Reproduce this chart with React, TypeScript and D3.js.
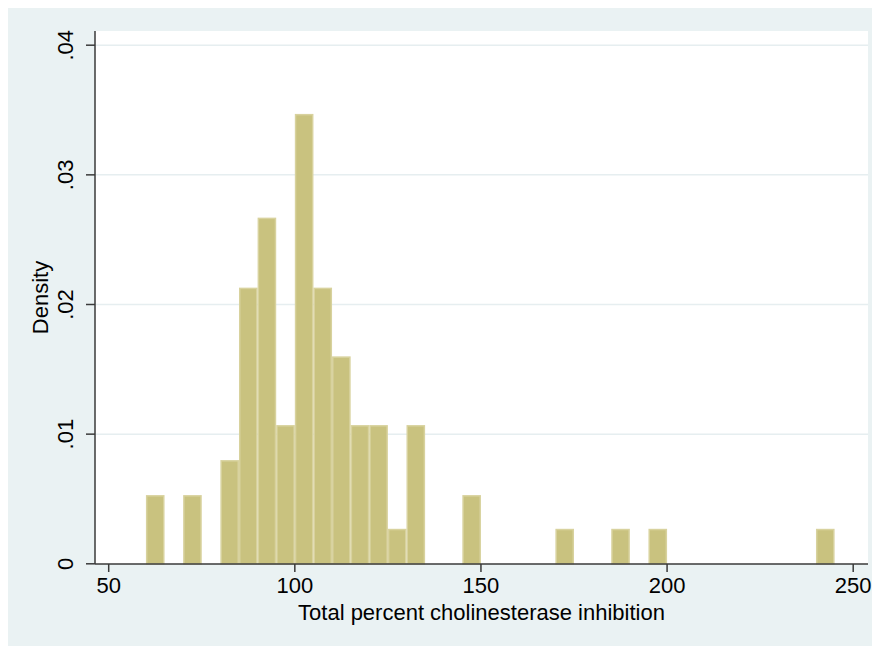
import React from "react";
import * as d3 from "d3";

// Histogram bins (left edge, width 5) and densities
const binStarts = [60, 70, 80, 85, 90, 95, 100, 105, 110, 115, 120, 125, 130, 145, 170, 185, 195, 240];
const densities = [0.0053, 0.0053, 0.008, 0.0213, 0.0267, 0.0107, 0.0347, 0.0213, 0.016, 0.0107, 0.0107, 0.0027, 0.0107, 0.0053, 0.0027, 0.0027, 0.0027, 0.0027];
const binWidth = 5;

const xTicks = [50, 100, 150, 200, 250];
const yTicks = [0, 0.01, 0.02, 0.03, 0.04];
const yTickLabels = ["0", ".01", ".02", ".03", ".04"];
const xTitle = "Total percent cholinesterase inhibition";
const yTitle = "Density";

const W = 872;
const H = 638;
const plot = { left: 87, right: 860, top: 23, bottom: 556 };

const BG = "#EAF2F3";
const GRID = "#E6EEF0";
const BAR_FILL = "#C9C27F";
const BAR_STROKE = "#D8D29E";
const AXIS = "#3a3a3a";
const FONT = "'Liberation Sans', Arial, Helvetica, sans-serif";

export default function App() {
  const x = d3.scaleLinear().domain([50, 250]).range([100.7, 845.2]);
  const y = d3.scaleLinear().domain([0, 0.04]).range([555.8, 37.2]);

  const bars = binStarts.map((b, i) => ({ x0: b, x1: b + binWidth, d: densities[i] }));

  return (
    <svg width={W} height={H} style={{ display: "block" }} fontFamily={FONT}>
      <rect x={0} y={0} width={W} height={H} fill={BG} />
      <rect x={plot.left} y={plot.top} width={plot.right - plot.left} height={plot.bottom - plot.top} fill="#ffffff" />
      {/* gridlines */}
      {yTicks.slice(1).map((t) => (
        <line key={"g" + t} x1={plot.left} x2={plot.right} y1={y(t)} y2={y(t)} stroke={GRID} strokeWidth={1.5} />
      ))}
      {/* bars */}
      {bars.map((b, i) => {
        const x0 = x(b.x0);
        const x1 = x(b.x1);
        const yt = y(b.d);
        const yb = y(0);
        return (
          <rect
            key={"b" + i}
            x={x0 + 0.75}
            y={yt + 0.75}
            width={x1 - x0 - 1.5}
            height={yb - yt - 0.75}
            fill={BAR_FILL}
            stroke={BAR_STROKE}
            strokeWidth={1.5}
          />
        );
      })}
      {/* axes */}
      <line x1={plot.left} x2={plot.left} y1={plot.top} y2={plot.bottom} stroke={AXIS} strokeWidth={1.5} />
      <line x1={plot.left} x2={plot.right} y1={plot.bottom} y2={plot.bottom} stroke={AXIS} strokeWidth={1.5} />
      {yTicks.map((t, i) => (
        <g key={"yt" + t}>
          <line x1={plot.left - 9} x2={plot.left} y1={y(t)} y2={y(t)} stroke={AXIS} strokeWidth={1.5} />
          <text
            transform={`translate(65,${y(t)}) rotate(-90)`}
            textAnchor="middle"
            fontSize={22}
            fill="#000"
          >
            {yTickLabels[i]}
          </text>
        </g>
      ))}
      {xTicks.map((t) => (
        <g key={"xt" + t}>
          <line x1={x(t)} x2={x(t)} y1={plot.bottom} y2={plot.bottom + 8} stroke={AXIS} strokeWidth={1.5} />
          <text x={x(t)} y={585} textAnchor="middle" fontSize={22} fill="#000">
            {t}
          </text>
        </g>
      ))}
      <text x={(plot.left + plot.right) / 2} y={612} textAnchor="middle" fontSize={22} fill="#000">
        {xTitle}
      </text>
      <text
        transform={`translate(40.3,${(plot.top + plot.bottom) / 2}) rotate(-90)`}
        textAnchor="middle"
        fontSize={22}
        fill="#000"
      >
        {yTitle}
      </text>
    </svg>
  );
}
